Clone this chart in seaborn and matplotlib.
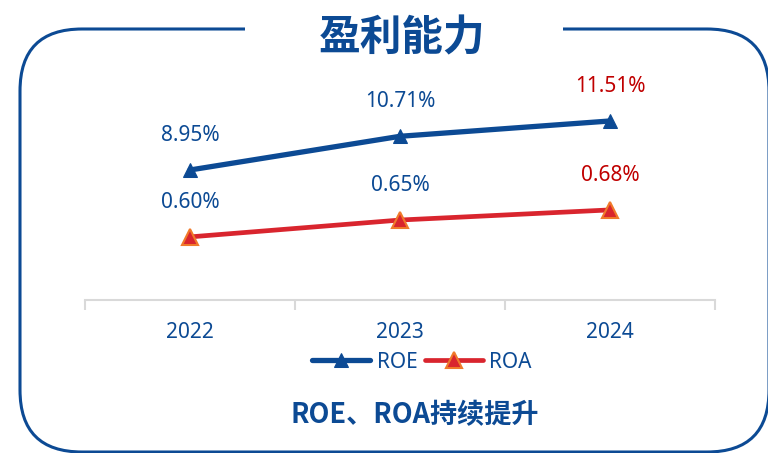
import matplotlib
matplotlib.use("Agg")
import matplotlib.pyplot as plt
from matplotlib.patches import FancyBboxPatch, Rectangle
from matplotlib.transforms import IdentityTransform
import seaborn as sns
import pandas as pd

# data
years = ["2022", "2023", "2024"]
roe = [8.95, 10.71, 11.51]
roa = [0.60, 0.65, 0.68]
title = "盈利能力"
subtitle = "ROE、ROA持续提升"

BLUE = "#0C4A94"
RED = "#D9252E"
ORANGE = "#F07A2A"
DARKRED = "#C00000"
GRAY = "#D9D9D9"

sns.set_style("white")
plt.rcParams['font.family'] = ['Noto Sans', 'Noto Sans CJK SC', 'DejaVu Sans']

df = pd.DataFrame({"year": years, "pos": range(len(years)), "ROE": roe, "ROA": roa})

fig = plt.figure(figsize=(7.68, 4.53), dpi=100)
ax = fig.add_axes([85 / 768, 1 - 300 / 453, 630 / 768, 220 / 453])
ax2 = ax.twinx()

sns.lineplot(data=df, x="pos", y="ROE", ax=ax, color=BLUE, lw=3.8, marker="^",
             markersize=10, markeredgecolor=BLUE, legend=False)
sns.lineplot(data=df, x="pos", y="ROA", ax=ax2, color=RED, lw=3.4, marker="^",
             markersize=11, markerfacecolor=RED, markeredgecolor=ORANGE,
             markeredgewidth=1.5, legend=False)

ax.set_xlim(-0.5, len(years) - 0.5)
ax.set_ylim(2.16, 13.65)
ax2.set_ylim(0.413, 1.065)

# value labels, last year highlighted in red
for i, v in enumerate(roe):
    c = DARKRED if i == len(years) - 1 else BLUE
    ax.annotate(f"{v:.2f}%", (i, v), xytext=(0, 25), textcoords="offset points",
                ha="center", va="center", fontsize=15, color=c)
for i, v in enumerate(roa):
    c = DARKRED if i == len(years) - 1 else BLUE
    ax2.annotate(f"{v:.2f}%", (i, v), xytext=(0, 25), textcoords="offset points",
                 ha="center", va="center", fontsize=15, color=c)

for a in (ax, ax2):
    a.set_xlabel("")
    a.set_ylabel("")
    a.set_yticks([])
    for s in ("left", "right", "top"):
        a.spines[s].set_visible(False)
ax2.spines["bottom"].set_visible(False)
ax.spines["bottom"].set_color(GRAY)
ax.spines["bottom"].set_linewidth(1.5)

ax.set_xticks([x - 0.5 for x in range(len(years) + 1)])
ax.set_xticklabels([])
ax.set_xticks(range(len(years)), minor=True)
ax.set_xticklabels(years, minor=True)
ax.tick_params(axis="x", which="major", bottom=True, length=7, width=1.5,
               color=GRAY, direction="out")
ax.tick_params(axis="x", which="minor", bottom=True, length=0, pad=16,
               labelsize=15, labelcolor=BLUE)

fig.legend([ax.lines[0], ax2.lines[0]], ["ROE", "ROA"], loc="center",
           bbox_to_anchor=(422 / 768, 1 - 362 / 453), ncol=2, frameon=False,
           fontsize=15, handlelength=2.8, columnspacing=0.35, handletextpad=0.3,
           labelcolor=BLUE, numpoints=1)

# rounded frame around the panel, broken at the top for the title
frame = FancyBboxPatch((20, 1), 749, 423, boxstyle="round,pad=0,rounding_size=62",
                       transform=IdentityTransform(), fill=False, ec=BLUE, lw=2.2)
fig.add_artist(frame)
fig.add_artist(Rectangle((245, 414), 318, 20, transform=IdentityTransform(),
                         fc="white", ec="none"))

fig.text(402 / 768, 1 - 38 / 453, title, fontsize=30, fontweight="heavy", color=BLUE,
         ha="center", va="center", family=["Noto Sans CJK SC", "DejaVu Sans"])
fig.text(415 / 768, 1 - 415 / 453, subtitle, fontsize=19.5, fontweight="bold", color=BLUE,
         ha="center", va="center", family=["Noto Sans CJK SC", "DejaVu Sans"])

fig.savefig("out.png", dpi=100, facecolor="white")
